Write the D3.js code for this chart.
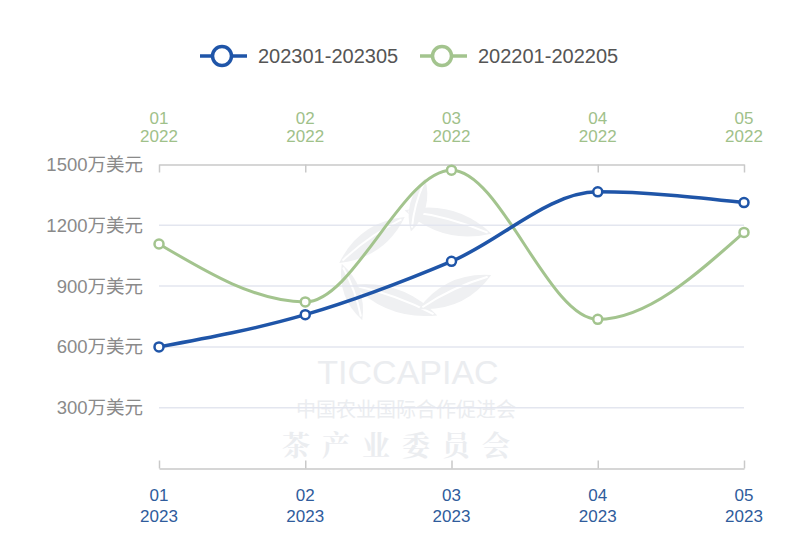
<!DOCTYPE html>
<html><head><meta charset="utf-8">
<script src="https://cdn.jsdelivr.net/npm/d3@7/dist/d3.min.js"></script>
<style>html,body{margin:0;padding:0;background:#fff;}svg{display:block;}</style>
</head><body>
<script>
const months = ["01","02","03","04","05"];
const year2023 = "2023";
const year2022 = "2022";
const seriesNames = ["202301-202305","202201-202205"];
const values2023 = [600, 759, 1022, 1365, 1312];
const values2022 = [1108, 822, 1472, 736, 1165];
const yTicks = [300, 600, 900, 1200, 1500];
const yUnit = "万美元";

const W = 800, H = 533;
const blue = "#1f55a8", green = "#a3c48e";
const svg = d3.select("body").append("svg").attr("width", W).attr("height", H);

const x = d3.scalePoint().domain(months).range([159, 744]);
const y = d3.scaleLinear().domain([0, 1500]).range([468.5, 164.5]);

// watermark
const wm = svg.append("g");
const leaf = (cx, cy, len, wid, rot) => {
  const g = wm.append("g").attr("transform", `translate(${cx},${cy}) rotate(${rot})`);
  g.append("path").attr("d", `M${-len/2},0 Q0,${-wid} ${len/2},0 Q0,${wid} ${-len/2},0 Z`).attr("fill", "#eff0f2");
  g.append("path").attr("d", `M${-len/2+4},0 Q0,${-wid*0.25} ${len/2-4},0`).attr("fill", "none")
    .attr("stroke", "#fff").attr("stroke-width", 2);
};
leaf(372, 240, 80, 22, -35);
leaf(448, 222, 90, 24, 15);
leaf(395, 300, 90, 22, 20);
leaf(455, 292, 80, 22, -25);
leaf(418, 205, 55, 16, -75);
leaf(352, 292, 60, 16, 70);
wm.append("text").attr("x", 408).attr("y", 384).attr("text-anchor", "middle").attr("fill", "#ebedf0")
  .attr("font-family", "Liberation Sans, Arial").attr("font-size", 34).text("TICCAPIAC");
wm.append("text").attr("x", 406).attr("y", 417).attr("text-anchor", "middle").attr("fill", "#ebedf0")
  .attr("font-family", "Noto Sans CJK SC").attr("font-size", 20).text("中国农业国际合作促进会");
wm.append("text").attr("x", 402).attr("y", 456).attr("text-anchor", "middle").attr("fill", "#ebedf0")
  .attr("font-family", "Noto Serif CJK SC, Noto Sans CJK SC").attr("font-weight", "bold")
  .attr("font-size", 28).attr("letter-spacing", 12).text("茶产业委员会");

// gridlines
svg.append("g").selectAll("line").data(yTicks.filter(d => d < 1500)).join("line")
  .attr("x1", x(months[0])).attr("x2", x(months[months.length-1]))
  .attr("y1", d => y(d)).attr("y2", d => y(d))
  .attr("stroke", "#e3e6ef").attr("stroke-width", 1.5);

// y labels
svg.append("g").selectAll("text").data(yTicks).join("text")
  .attr("x", 143).attr("y", d => y(d)).attr("dy", "0.35em").attr("text-anchor", "end")
  .attr("font-family", "Liberation Sans, Noto Sans CJK SC").attr("font-size", 18.5)
  .attr("fill", "#8a8a8a").text(d => d + yUnit);

// bottom axis (ticks inward)
const bottomAxis = svg.append("g").attr("transform", `translate(0,${y(0)})`)
  .call(d3.axisTop(x).tickSize(8).tickSizeOuter(0).tickFormat(""));
bottomAxis.select(".domain").attr("stroke", "#c9c9c9").attr("stroke-width", 1.5);
bottomAxis.selectAll(".tick line").attr("stroke", "#c9c9c9").attr("stroke-width", 1.5);

// top axis
const topAxis = svg.append("g").attr("transform", `translate(0,${y(1500)})`)
  .call(d3.axisBottom(x).tickSize(8).tickSizeOuter(0).tickFormat(""));
topAxis.select(".domain").attr("stroke", "#c9c9c9").attr("stroke-width", 1.5);
topAxis.selectAll(".tick line").attr("stroke", "#c9c9c9").attr("stroke-width", 1.5);

// axis labels
const bl = svg.append("g").attr("font-family", "Liberation Sans, Arial").attr("font-size", 17)
  .attr("fill", "#2f5c9c").attr("text-anchor", "middle");
bl.selectAll("text.m").data(months).join("text").attr("class","m").attr("x", d => x(d)).attr("y", 501).text(d => d);
bl.selectAll("text.yr").data(months).join("text").attr("class","yr").attr("x", d => x(d)).attr("y", 522).text(year2023);

const tl = svg.append("g").attr("font-family", "Liberation Sans, Arial").attr("font-size", 17)
  .attr("fill", "#9fc18a").attr("text-anchor", "middle");
tl.selectAll("text.m").data(months).join("text").attr("class","m").attr("x", d => x(d)).attr("y", 124).text(d => d);
tl.selectAll("text.yr").data(months).join("text").attr("class","yr").attr("x", d => x(d)).attr("y", 142).text(year2022);

// lines
const line = d3.line().x((d, i) => x(months[i])).y(d => y(d)).curve(d3.curveMonotoneX);
const series = [
  {name: seriesNames[1], vals: values2022, color: green, w: 3},
  {name: seriesNames[0], vals: values2023, color: blue, w: 3.5}
];
series.forEach(s => {
  svg.append("path").attr("d", line(s.vals)).attr("fill", "none")
    .attr("stroke", s.color).attr("stroke-width", s.w);
  svg.append("g").selectAll("circle").data(s.vals).join("circle")
    .attr("cx", (d, i) => x(months[i])).attr("cy", d => y(d)).attr("r", 4.5)
    .attr("fill", "#fff").attr("stroke", s.color).attr("stroke-width", 2.5);
});

// legend
const legendItems = [
  {name: seriesNames[0], color: blue, x0: 200},
  {name: seriesNames[1], color: green, x0: 420}
];
legendItems.forEach(l => {
  const g = svg.append("g");
  g.append("line").attr("x1", l.x0).attr("x2", l.x0 + 47).attr("y1", 56).attr("y2", 56)
    .attr("stroke", l.color).attr("stroke-width", 3.5);
  g.append("circle").attr("cx", l.x0 + 22).attr("cy", 56).attr("r", 9.5)
    .attr("fill", "#fff").attr("stroke", l.color).attr("stroke-width", 3.5);
  g.append("text").attr("x", l.x0 + 58).attr("y", 56).attr("dy", "0.35em")
    .attr("font-family", "Liberation Sans, Arial").attr("font-size", 20)
    .attr("fill", "#555").text(l.name);
});
</script>
</body></html>
